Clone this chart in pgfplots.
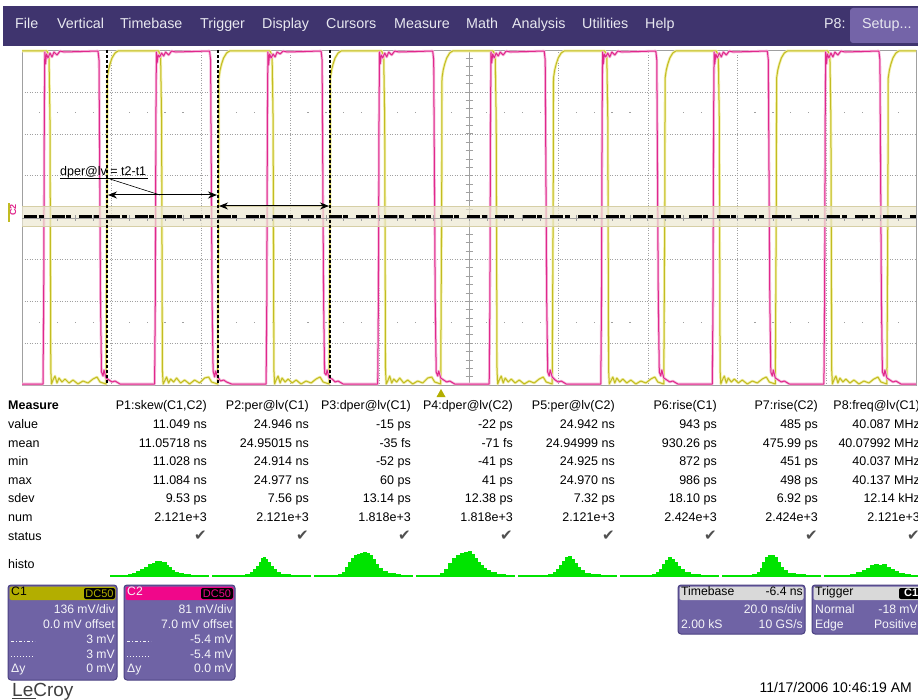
\documentclass[border=0pt]{standalone}
\usepackage{fontspec}
\setmainfont{Liberation Sans}
\newfontfamily\dejavu{DejaVu Sans}
\usepackage{pgfplots}
\pgfplotsset{compat=1.18}
\usepackage{pgfplotstable}
\usetikzlibrary{arrows.meta}

\definecolor{menubar}{HTML}{3F346E}
\definecolor{menutext}{HTML}{E8E8F0}
\definecolor{setupbtn}{HTML}{7464A8}
\definecolor{panel}{HTML}{6F63A5}
\definecolor{panelborder}{HTML}{4B4182}
\definecolor{c1head}{HTML}{B3AE00}
\definecolor{c2head}{HTML}{F0078A}
\definecolor{c1trace}{HTML}{C2BC22}
\definecolor{c1halo}{HTML}{F2EFA8}
\definecolor{c2trace}{HTML}{E0288C}
\definecolor{c2halo}{HTML}{F5B8DA}
\definecolor{gridgray}{HTML}{A0A0A0}
\definecolor{band}{HTML}{EDE9D2}
\definecolor{bandedge}{HTML}{D6CFA6}
\definecolor{histgreen}{HTML}{00E400}
\definecolor{chkgray}{HTML}{505050}
\definecolor{paneltext}{HTML}{F4F4F8}

% C2 (magenta), pixel coordinates of the screen
\pgfplotstableread{
x y
22 384
43.0 384
43.7 300
44.3 120
44.8 52
45.5 64
46.5 54
48.0 58
50.0 53
52.0 57
54.0 52
57.0 55
60.0 51
64.0 52
98.0 51
99.0 60
100.5 300
101.5 372
103.0 376
104.0 370
106.0 378
109.0 380
112.0 382
115.0 381
120.0 384
154.6 384
155.3 300
155.9 120
156.4 52
157.1 63
158.1 55
159.6 57
161.6 53
163.6 56
165.6 52
168.6 55
171.6 51
175.6 52
209.6 51
210.6 60
212.1 300
213.1 371
214.6 377
215.6 371
217.6 377
220.6 381
223.6 380
226.6 382
231.6 384
266.1 384
266.8 300
267.4 120
267.9 52
268.6 65
269.6 54
271.1 58
273.1 54
275.1 57
277.1 52
280.1 54
283.1 51
287.1 52
321.1 51
322.1 60
323.6 300
324.6 373
326.1 375
327.1 370
329.1 378
332.1 379
335.1 382
338.1 381
343.1 384
377.7 384
378.4 300
379.0 120
379.5 52
380.2 64
381.2 55
382.7 58
384.7 53
386.7 57
388.7 52
391.7 55
394.7 51
398.7 52
432.7 51
433.7 60
435.2 300
436.2 372
437.7 376
438.7 371
440.7 378
443.7 380
446.7 382
449.7 381
454.7 384
489.2 384
489.9 300
490.5 120
491.0 52
491.7 63
492.7 54
494.2 58
496.2 53
498.2 56
500.2 52
503.2 55
506.2 51
510.2 52
544.2 51
545.2 60
546.7 300
547.7 372
549.2 376
550.2 370
552.2 377
555.2 380
558.2 382
561.2 381
566.2 384
600.8 384
601.5 300
602.1 120
602.6 52
603.3 64
604.3 54
605.8 57
607.8 53
609.8 57
611.8 52
614.8 55
617.8 51
621.8 52
655.8 51
656.8 60
658.3 300
659.3 372
660.8 376
661.8 370
663.8 378
666.8 380
669.8 382
672.8 381
677.8 384
712.3 384
713.0 300
713.6 120
714.1 52
714.8 64
715.8 54
717.3 58
719.3 53
721.3 57
723.3 52
726.3 55
729.3 51
733.3 52
767.3 51
768.3 60
769.8 300
770.8 372
772.3 376
773.3 370
775.3 378
778.3 380
781.3 382
784.3 381
789.3 384
823.9 384
824.6 300
825.2 120
825.7 52
826.4 64
827.4 54
828.9 58
830.9 53
832.9 57
834.9 52
837.9 55
840.9 51
844.9 52
878.9 51
879.9 60
881.4 300
882.4 372
883.9 376
884.9 370
886.9 378
889.9 380
892.9 382
895.9 381
900.9 384
916 384
}\chtwo

% C1 (yellow)
\pgfplotstableread{
x y
22 51
47 51
49 56
50 120
50.8 370
51.5 384
53 380
55 376
57 383
59 378
62 382
65 379
69 383
73 380
78 384
83 381
88 383
93 379
97 377
100 382
106 384
107 200
107.3 78
108.5 70
110 64
112 58
115 53
118 51
158.6 51
160.6 56
161.6 120
162.4 370
163.1 384
164.6 381
166.6 377
168.6 383
170.6 379
173.6 382
176.6 378
180.6 383
184.6 380
189.6 384
194.6 380
199.6 383
204.6 378
208.6 377
211.6 382
217.6 384
218.6 200
218.9 78
220.1 70
221.6 64
223.6 58
226.6 53
229.6 51
270.1 51
272.1 56
273.1 120
273.9 370
274.6 384
276.1 380
278.1 376
280.1 383
282.1 378
285.1 382
288.1 379
292.1 383
296.1 380
301.1 384
306.1 381
311.1 383
316.1 379
320.1 377
323.1 382
329.1 384
330.1 200
330.4 78
331.6 70
333.1 64
335.1 58
338.1 53
341.1 51
381.7 51
383.7 56
384.7 120
385.5 370
386.2 384
387.7 381
389.7 376
391.7 383
393.7 379
396.7 382
399.7 378
403.7 383
407.7 380
412.7 384
417.7 381
422.7 383
427.7 378
431.7 377
434.7 382
440.7 384
441.7 200
442.0 78
443.2 70
444.7 64
446.7 58
449.7 53
452.7 51
493.2 51
495.2 56
496.2 120
497.0 370
497.7 384
499.2 380
501.2 376
503.2 383
505.2 378
508.2 382
511.2 379
515.2 383
519.2 380
524.2 384
529.2 381
534.2 383
539.2 379
543.2 377
546.2 382
552.2 384
553.2 200
553.5 78
554.7 70
556.2 64
558.2 58
561.2 53
564.2 51
604.8 51
606.8 56
607.8 120
608.6 370
609.3 384
610.8 381
612.8 377
614.8 383
616.8 378
619.8 382
622.8 379
626.8 383
630.8 380
635.8 384
640.8 381
645.8 383
650.8 379
654.8 377
657.8 382
663.8 384
664.8 200
665.1 78
666.3 70
667.8 64
669.8 58
672.8 53
675.8 51
716.3 51
718.3 56
719.3 120
720.1 370
720.8 384
722.3 380
724.3 376
726.3 383
728.3 378
731.3 382
734.3 379
738.3 383
742.3 380
747.3 384
752.3 381
757.3 383
762.3 379
766.3 377
769.3 382
775.3 384
776.3 200
776.6 78
777.8 70
779.3 64
781.3 58
784.3 53
787.3 51
827.9 51
829.9 56
830.9 120
831.7 370
832.4 384
833.9 380
835.9 376
837.9 383
839.9 378
842.9 382
845.9 379
849.9 383
853.9 380
858.9 384
863.9 381
868.9 383
873.9 379
877.9 377
880.9 382
886.9 384
887.9 200
888.2 78
889.4 70
890.9 64
892.9 58
895.9 53
898.9 51
916 51
}\chone

\tikzset{
  mt/.style={font=\fontsize{12.5}{15}\selectfont, inner sep=0pt},
  menu/.style={font=\fontsize{14.3}{16}\selectfont, inner sep=0pt, text=menutext, anchor=mid west},
  pt/.style={font=\fontsize{12.2}{14}\selectfont, inner sep=0pt, text=paneltext},
}
\newcommand\chk{{\dejavu\fontsize{15}{15}\selectfont\color{chkgray}✔}\hspace{2pt}}
\newcommand\mrow[9]{%
  \node[mt,anchor=mid east] at (207,#1) {#2};
  \node[mt,anchor=mid east] at (309,#1) {#3};
  \node[mt,anchor=mid east] at (411,#1) {#4};
  \node[mt,anchor=mid east] at (513,#1) {#5};
  \node[mt,anchor=mid east] at (615,#1) {#6};
  \node[mt,anchor=mid east] at (717,#1) {#7};
  \node[mt,anchor=mid east] at (818,#1) {#8};
  \node[mt,anchor=mid east] at (920,#1) {#9};}

\begin{document}
\begin{tikzpicture}
\useasboundingbox (0,0) rectangle (918pt,-700pt);
\clip (0,0) rectangle (918pt,-700pt);
\fill[white] (0,0) rectangle (918pt,-700pt);

% under the traces: dot rows and ticks of the vertical centre line
\begin{scope}[x=1pt,y=-1pt]
  \foreach \i in {1,2,3,4,6,7,8,9,11,12,13,14,16,17,18,19,21,22,23,24,26,27,28,29,31,32,33,34,36,37,38,39,41,42,43,44,46,47,48,49} {
    \fill[gridgray] ({22+17.88*\i-0.6},112.3) rectangle ++(1.2,1.2);
    \fill[gridgray] ({22+17.88*\i-0.6},321.8) rectangle ++(1.2,1.2);
  }
  \foreach \j in {1,...,39} \draw[gridgray, line width=0.7pt] (465.5,{50+8.375*\j}) -- (472.5,{50+8.375*\j});
\end{scope}

% waveform display
\begin{axis}[
  at={(22pt,-50pt)}, anchor=north west,
  scale only axis, width=894pt, height=335pt,
  xmin=22, xmax=916, ymin=50, ymax=385, y dir=reverse,
  no markers,
  axis line style={draw=gridgray, line width=0.8pt},
  xtick={111.4,200.8,290.2,379.6,558.4,647.8,737.2,826.6},
  ytick={91.9,133.8,175.6,259.4,301.3,343.1},
  xticklabels={}, yticklabels={},
  major tick length=0pt,
  grid=major,
  major grid style={draw=gridgray, line width=0.6pt, dash pattern=on 1pt off 1.5pt},
  extra x ticks={469}, extra x tick labels={},
  extra x tick style={grid=major, major grid style={draw=gridgray, solid, line width=0.8pt}},
]
\addplot[c1halo, line width=2.6pt, line join=round] table {\chone};
\addplot[c1trace, line width=1pt, line join=round] table {\chone};
\addplot[c2halo, line width=2.6pt, line join=round] table {\chtwo};
\addplot[c2trace, line width=1pt, line join=round] table {\chtwo};
\end{axis}

% histograms of the measurements
\begin{axis}[
  at={(0pt,-576pt)}, anchor=south west,
  scale only axis, width=918pt, height=30pt,
  xmin=0, xmax=918, ymin=0, ymax=30,
  axis lines=none,
]
\addplot[const plot, fill=histgreen, draw=histgreen] coordinates {(110,1) (120,1) (128,2) (132,3) (136,5) (140,7) (144,9) (148,12) (152,13) (155,15) (158,15) (161,14) (164,14) (166,11) (168,9) (171,6) (174,4) (178,3) (183,2) (190,1) (208,1)} \closedcycle;
\addplot[const plot, fill=histgreen, draw=histgreen] coordinates {(212,1) (235,1) (245,2) (250,4) (253,7) (256,10) (259,14) (261,18) (263,19) (265,17) (267,14) (270,10) (273,7) (276,4) (280,2) (290,1) (310,1)} \closedcycle;
\addplot[const plot, fill=histgreen, draw=histgreen] coordinates {(314,1) (330,1) (338,2) (342,4) (345,9) (348,14) (351,18) (354,21) (357,22) (360,23) (363,24) (366,23) (369,21) (372,17) (375,12) (378,8) (382,5) (387,3) (395,2) (400,1) (412,1)} \closedcycle;
\addplot[const plot, fill=histgreen, draw=histgreen] coordinates {(416,1) (435,1) (440,3) (444,7) (448,13) (452,18) (456,21) (460,23) (464,24) (468,25) (471,22) (474,18) (477,14) (480,11) (483,8) (486,6) (490,4) (496,2) (505,1) (514,1)} \closedcycle;
\addplot[const plot, fill=histgreen, draw=histgreen] coordinates {(518,1) (540,1) (548,2) (553,4) (556,7) (559,11) (562,15) (565,19) (568,20) (571,17) (574,13) (577,9) (580,6) (584,3) (590,2) (600,1) (616,1)} \closedcycle;
\addplot[const plot, fill=histgreen, draw=histgreen] coordinates {(620,1) (645,1) (652,2) (656,4) (659,7) (662,12) (665,16) (668,19) (671,17) (674,14) (677,10) (680,7) (684,4) (690,2) (700,1) (718,1)} \closedcycle;
\addplot[const plot, fill=histgreen, draw=histgreen] coordinates {(722,1) (745,1) (752,2) (757,4) (760,8) (762,14) (765,19) (768,21) (771,21) (774,19) (777,14) (780,9) (783,6) (787,3) (795,2) (805,1) (820,1)} \closedcycle;
\addplot[const plot, fill=histgreen, draw=histgreen] coordinates {(824,1) (840,1) (850,2) (856,4) (862,6) (866,8) (870,11) (874,12) (878,11) (882,12) (886,9) (890,7) (894,5) (898,3) (904,2) (910,1) (918,1)} \closedcycle;
\end{axis}

\begin{scope}[x=1pt,y=-1pt]
  % trigger level band, centre line, cursor level
  \fill[band, fill opacity=0.7] (22,206) rectangle (916,226);
  \draw[bandedge, line width=0.6pt] (22,206) -- (916,206) (22,226) -- (916,226);
  \draw[gridgray, line width=0.8pt] (22,218.5) -- (916,218.5);
  \foreach \i in {1,...,49} \draw[gridgray, line width=0.7pt] ({22+17.88*\i},215.5) -- ({22+17.88*\i},221.5);
  \draw[black, line width=2.4pt, dash pattern=on 13pt off 1.5pt on 5pt off 8.2pt] (24,216.5) -- (916,216.5);

  % cursors
  \foreach \cx in {107,218,330}
    \draw[black, line width=1.1pt, dash pattern=on 3pt off 2pt] (\cx,50) -- (\cx,385);
  \draw[black, line width=1pt, {Stealth[length=9pt,width=7pt]}-{Stealth[length=9pt,width=7pt]}] (108,195) -- (217,195);
  \draw[black, line width=1pt, {Stealth[length=9pt,width=7pt]}-{Stealth[length=9pt,width=7pt]}] (219,206) -- (329,206);
  \draw[black, line width=0.6pt] (60,178.5) -- (148,178.5);
  \draw[black, line width=0.6pt] (110,179) -- (160,195);
  \node[mt, anchor=base west] at (60,175.5) {dper@lv = t2-t1};

  % channel marker on the left and trigger position
  \node[inner sep=0pt, rotate=90, text=c2trace, font=\fontsize{9}{9}\selectfont\bfseries] at (13,210) {C2};
  \fill[c1trace] (7.5,203) rectangle (9.5,222);
  \fill[c1head] (436.5,397) -- (445.5,397) -- (441,389) -- cycle;

  % menu bar
  \fill[menubar] (3,6) rectangle (918,46);
  \fill[setupbtn, rounded corners=3pt] (850,8) rectangle (930,43);
  \node[menu] at (15,26) {File};
  \node[menu] at (57,26) {Vertical};
  \node[menu] at (120,26) {Timebase};
  \node[menu] at (200,26) {Trigger};
  \node[menu] at (262,26) {Display};
  \node[menu] at (326,26) {Cursors};
  \node[menu] at (394,26) {Measure};
  \node[menu] at (466,26) {Math};
  \node[menu] at (512,26) {Analysis};
  \node[menu] at (582,26) {Utilities};
  \node[menu] at (645,26) {Help};
  \node[menu] at (824,26) {P8:};
  \node[menu] at (862,26) {Setup...};

  % measurement table
  \node[mt, anchor=mid west, font=\fontsize{12.5}{15}\selectfont\bfseries] at (8,407) {Measure};
  \node[mt, anchor=mid west] at (8,426) {value};
  \node[mt, anchor=mid west] at (8,445) {mean};
  \node[mt, anchor=mid west] at (8,463) {min};
  \node[mt, anchor=mid west] at (8,482) {max};
  \node[mt, anchor=mid west] at (8,500) {sdev};
  \node[mt, anchor=mid west] at (8,519) {num};
  \node[mt, anchor=mid west] at (8,538) {status};
  \node[mt, anchor=mid west] at (8,566) {histo};
  \mrow{407}{P1:skew(C1,C2)}{P2:per@lv(C1)}{P3:dper@lv(C1)}{P4:dper@lv(C2)}{P5:per@lv(C2)}{P6:rise(C1)}{P7:rise(C2)}{P8:freq@lv(C1)}
  \mrow{426}{11.049 ns}{24.946 ns}{-15 ps}{-22 ps}{24.942 ns}{943 ps}{485 ps}{40.087 MHz}
  \mrow{445}{11.05718 ns}{24.95015 ns}{-35 fs}{-71 fs}{24.94999 ns}{930.26 ps}{475.99 ps}{40.07992 MHz}
  \mrow{463}{11.028 ns}{24.914 ns}{-52 ps}{-41 ps}{24.925 ns}{872 ps}{451 ps}{40.037 MHz}
  \mrow{482}{11.084 ns}{24.977 ns}{60 ps}{41 ps}{24.970 ns}{986 ps}{498 ps}{40.137 MHz}
  \mrow{500}{9.53 ps}{7.56 ps}{13.14 ps}{12.38 ps}{7.32 ps}{18.10 ps}{6.92 ps}{12.14 kHz}
  \mrow{519}{2.121e+3}{2.121e+3}{1.818e+3}{1.818e+3}{2.121e+3}{2.424e+3}{2.424e+3}{2.121e+3}
  \mrow{538}{\chk}{\chk}{\chk}{\chk}{\chk}{\chk}{\chk}{\chk}

  % C1 panel
  \draw[panelborder, fill=panel, line width=1pt, rounded corners=3pt] (8,585) rectangle (117,680);
  \fill[c1head, rounded corners=2pt] (9.5,586.5) rectangle (115.5,600);
  \node[pt, text=black, anchor=mid west] at (11,593) {C1};
  \fill[black, rounded corners=2pt] (84,588) rectangle (115,599);
  \node[pt, text=c1head, font=\fontsize{11}{11}\selectfont] at (99.5,593.5) {DC50};
  \node[pt, anchor=mid east] at (115,611) {136 mV/div};
  \node[pt, anchor=mid east] at (115,626) {0.0 mV offset};
  \node[pt, anchor=mid east] at (115,641) {3 mV};
  \node[pt, anchor=mid east] at (115,656) {3 mV};
  \node[pt, anchor=mid east] at (115,670) {0 mV};
  \draw[paneltext, line width=0.9pt, dash pattern=on 3pt off 2pt on 1pt off 2pt] (11,641) -- (35,641);
  \draw[paneltext, line width=0.9pt, dash pattern=on 1pt off 2pt] (11,656) -- (35,656);
  \node[pt, anchor=mid west] at (11,670) {Δy};

  % C2 panel
  \draw[panelborder, fill=panel, line width=1pt, rounded corners=3pt] (124,585) rectangle (235,680);
  \fill[c2head, rounded corners=2pt] (125.5,586.5) rectangle (233.5,600);
  \node[pt, anchor=mid west] at (127,593) {C2};
  \fill[black, rounded corners=2pt] (201,588) rectangle (233,599);
  \node[pt, text=c2head, font=\fontsize{11}{11}\selectfont] at (217,593.5) {DC50};
  \node[pt, anchor=mid east] at (233,611) {81 mV/div};
  \node[pt, anchor=mid east] at (233,626) {7.0 mV offset};
  \node[pt, anchor=mid east] at (233,641) {-5.4 mV};
  \node[pt, anchor=mid east] at (233,656) {-5.4 mV};
  \node[pt, anchor=mid east] at (233,670) {0.0 mV};
  \draw[paneltext, line width=0.9pt, dash pattern=on 3pt off 2pt on 1pt off 2pt] (127,641) -- (151,641);
  \draw[paneltext, line width=0.9pt, dash pattern=on 1pt off 2pt] (127,656) -- (151,656);
  \node[pt, anchor=mid west] at (127,670) {Δy};

  % Timebase panel
  \draw[panelborder, fill=panel, line width=1pt, rounded corners=3pt] (678,585) rectangle (805,634);
  \fill[gray!30, rounded corners=2pt] (679.5,586.5) rectangle (803.5,600);
  \node[pt, text=black, anchor=mid west] at (681,593) {Timebase};
  \node[pt, text=black, anchor=mid east] at (803,593) {-6.4 ns};
  \node[pt, anchor=mid east] at (803,611) {20.0 ns/div};
  \node[pt, anchor=mid west] at (681,626) {2.00 kS};
  \node[pt, anchor=mid east] at (803,626) {10 GS/s};

  % Trigger panel
  \draw[panelborder, fill=panel, line width=1pt, rounded corners=3pt] (812,585) rectangle (935,634);
  \fill[gray!30, rounded corners=2pt] (813.5,586.5) rectangle (933,600);
  \node[pt, text=black, anchor=mid west] at (815,593) {Trigger};
  \fill[black, rounded corners=2pt] (899,588) rectangle (932,599);
  \node[pt, text=white, anchor=mid west, font=\fontsize{11}{11}\selectfont\bfseries] at (904,593.5) {C1};
  \node[pt, anchor=mid west] at (815,611) {Normal};
  \node[pt, anchor=mid east] at (918,611) {-18 mV};
  \node[pt, anchor=mid west] at (815,626) {Edge};
  \node[pt, anchor=mid east] at (917,626) {Positive};

  % footer
  \node[inner sep=0pt, anchor=base west, text=black!75, font=\fontsize{19}{19}\selectfont] at (12,696) {LeCroy};
  \draw[black!75, line width=1pt] (12,698.5) -- (36,698.5);
  \node[inner sep=0pt, anchor=mid east, font=\fontsize{14}{16}\selectfont] at (912,690) {11/17/2006 10:46:19 AM};
\end{scope}
\end{tikzpicture}
\end{document}
